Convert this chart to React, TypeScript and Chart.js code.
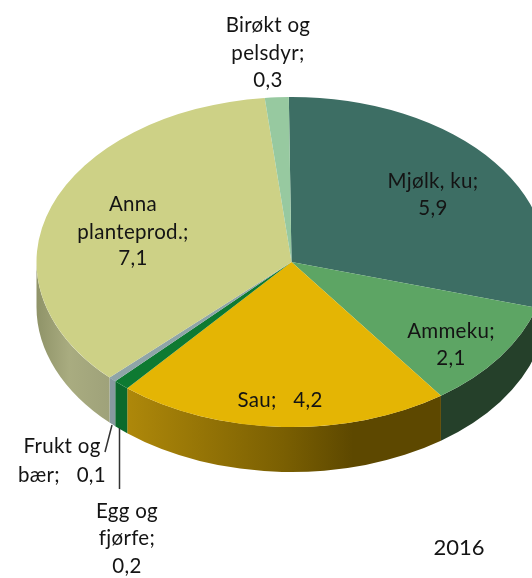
import React, { useEffect, useRef } from "react";
import { Chart, registerables } from "chart.js";

Chart.register(...registerables);

const categories = ["Mjølk, ku", "Ammeku", "Sau", "Egg og fjørfe", "Frukt og bær", "Anna planteprod.", "Birøkt og pelsdyr"];
const values = [5.9, 2.1, 4.2, 0.2, 0.1, 7.1, 0.3];
const topColors = ["#3d6e64", "#5da564", "#e4b504", "#0e7a32", "#8fa5a8", "#cdd186", "#97c9a0"];
const yearLabel = "2016";

// side-wall gradients of the 3D effect: [offset, colour]
const sideStops: [number, string][][] = [
  [[0, "#234a40"], [1, "#234a40"]],
  [[0, "#25402a"], [1, "#25402a"]],
  [[0, "#ae880a"], [0.5, "#7a5f02"], [0.72, "#5d4800"], [1, "#5d4800"]],
  [[0, "#0b6a2c"], [1, "#0b6a2c"]],
  [[0, "#8899a0"], [1, "#8899a0"]],
  [[0, "#8f9368"], [0.45, "#a9ac80"], [1, "#9fa27a"]],
  [[0, "#7fae88"], [1, "#7fae88"]],
];

const SQUASH = 165 / 255;
const DEPTH = 45;
const FONT = "20.5px Lato";
const fmt = (v: number) => v.toFixed(1).replace(".", ",");

type Lbl = { lines: string[]; x: number; y: number[] };
const labelLayout: Lbl[] = [
  { lines: ["Mjølk, ku;", fmt(values[0])], x: 433, y: [188, 215] },
  { lines: ["Ammeku;", fmt(values[1])], x: 451, y: [338, 365] },
  { lines: [`Sau;   ${fmt(values[2])}`], x: 280, y: [407] },
  { lines: ["Egg og", "fjørfe;", fmt(values[3])], x: 127, y: [518, 545, 573] },
  { lines: ["Frukt og", `bær;   ${fmt(values[4])}`], x: 62, y: [453, 482] },
  { lines: ["Anna", "planteprod.;", fmt(values[5])], x: 133, y: [211, 239, 265] },
  { lines: ["Birøkt og", "pelsdyr;", fmt(values[6])], x: 268, y: [32, 60, 87] },
];

const pie3d = {
  id: "pie3d",
  beforeDatasetsDraw(chart: any) {
    const { ctx } = chart;
    const arcs = chart.getDatasetMeta(0).data;
    const cx = arcs[0].x, cy = arcs[0].y, rx = arcs[0].outerRadius, ry = rx * SQUASH;
    arcs.forEach((arc: any, i: number) => {
      const s = Math.max(arc.startAngle, 0);
      const e = Math.min(arc.endAngle, Math.PI);
      if (e <= s) return;
      const x0 = cx + rx * Math.cos(e), x1 = cx + rx * Math.cos(s);
      const g = ctx.createLinearGradient(x0, 0, x1, 0);
      sideStops[i].forEach(([o, c]) => g.addColorStop(o, c));
      ctx.beginPath();
      ctx.ellipse(cx, cy, rx, ry, 0, s, e);
      ctx.ellipse(cx, cy + DEPTH, rx, ry, 0, e, s, true);
      ctx.closePath();
      ctx.fillStyle = g;
      ctx.fill();
    });
    ctx.save();
    ctx.translate(cx, cy);
    ctx.scale(1, SQUASH);
    ctx.translate(-cx, -cy);
  },
  afterDatasetsDraw(chart: any) {
    const { ctx } = chart;
    ctx.restore();
    // leader lines
    ctx.strokeStyle = "#333333";
    ctx.lineWidth = 1.5;
    ctx.beginPath();
    ctx.moveTo(112, 425);
    ctx.lineTo(105, 452);
    ctx.moveTo(119.5, 428);
    ctx.lineTo(119.5, 489);
    ctx.stroke();
    // labels
    ctx.fillStyle = "#141414";
    ctx.textBaseline = "alphabetic";
    ctx.textAlign = "center";
    ctx.font = FONT;
    (ctx as any).letterSpacing = "0.3px";
    labelLayout.forEach((l) => l.lines.forEach((t, j) => ctx.fillText(t, l.x, l.y[j])));
    (ctx as any).letterSpacing = "0px";
    ctx.font = "22px Lato";
    ctx.fillText(yearLabel, 459, 555);
  },
};

export default function App() {
  const ref = useRef<HTMLCanvasElement>(null);
  useEffect(() => {
    document.body.style.margin = "0";
    const chart = new Chart(ref.current!, {
      type: "pie",
      data: {
        labels: categories,
        datasets: [{ data: values, backgroundColor: topColors, borderWidth: 0, clip: false } as any],
      },
      options: {
        animation: false,
        responsive: false,
        rotation: -0.6,
        layout: { padding: { left: 36, right: 53, top: 7, bottom: 61 } },
        plugins: { legend: { display: false }, tooltip: { enabled: false } },
      },
      plugins: [pie3d],
    });
    return () => chart.destroy();
  }, []);
  return (
    <div style={{ position: "absolute", left: 0, top: 0, width: 532, height: 578, overflow: "hidden", background: "#fff" }}>
      <canvas ref={ref} width={600} height={578} style={{ display: "block" }} />
    </div>
  );
}
